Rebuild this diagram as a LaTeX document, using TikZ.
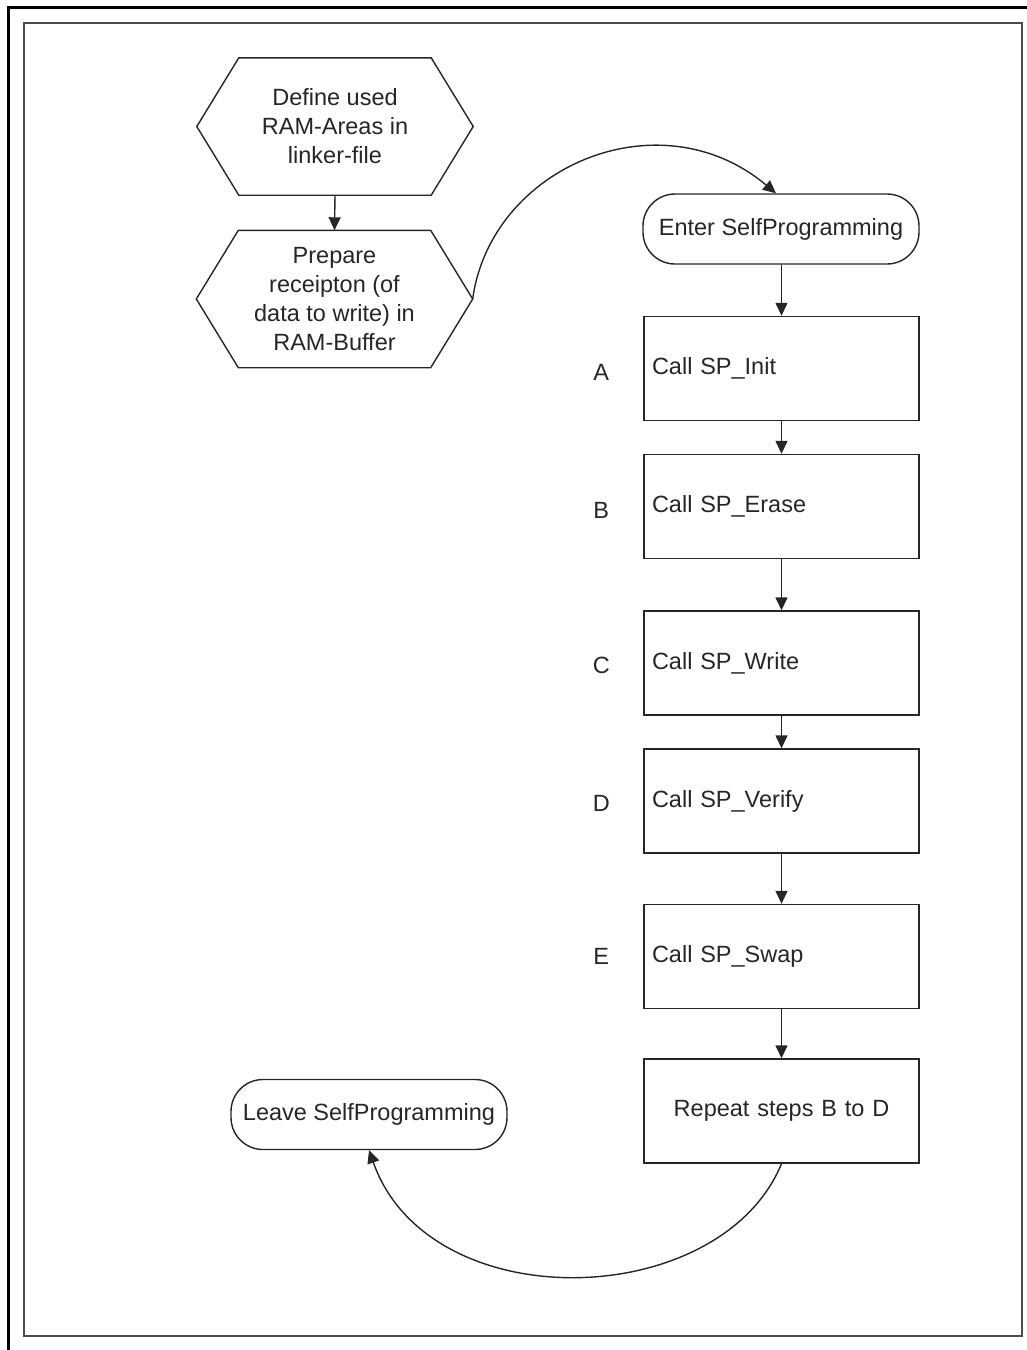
\documentclass[tikz,border=0pt]{standalone}
\usepackage{fontspec}
\setmainfont{Liberation Sans}
\usetikzlibrary{arrows.meta}

\tikzset{
  flow/.style={line width=1.4pt, draw=black!85},
  arr/.style={flow, -{Triangle[length=13pt,width=12pt]}},
  hexbox/.style={minimum width=276pt, minimum height=137pt, align=center, inner sep=0pt, text=black!85},
  term/.style={flow, draw, rounded corners=32pt, minimum width=276pt, minimum height=70pt, inner sep=0pt, text=black!85},
  stepbox/.style={flow, draw, minimum width=275pt, minimum height=104pt, text width=259pt, align=left, inner xsep=8pt, inner ysep=0pt, text=black!85},
  tag/.style={inner sep=0pt, text=black!85},
}

\begin{document}
\begin{tikzpicture}[x=1pt, y=-1pt, font=\fontsize{23.5}{29}\selectfont]
  \useasboundingbox (0,0) rectangle (1027,1350);

  % page frames
  \draw[line width=2.5pt, black] (8.5,1352) -- (8.5,7.5) -- (1029,7.5);
  \draw[line width=2pt, black!70] (23.5,22.5) rectangle (1022,1335.5);

  % preparation steps (hexagons)
  \node[hexbox] (h1) at (335,126.5) {Define used\\RAM-Areas in\\linker-file};
  \node[hexbox] (h2) at (334.5,299) {Prepare\\receipton (of\\data to write) in\\RAM-Buffer};
  \foreach \h in {h1,h2}{
    \draw[flow] (\h.west) -- ([xshift=42pt]\h.north west) -- ([xshift=-42pt]\h.north east)
      -- (\h.east) -- ([xshift=-42pt]\h.south east) -- ([xshift=42pt]\h.south west) -- cycle;
  }

  % terminals
  \node[term] (enter) at (781,229) {Enter SelfProgramming};
  \node[term] (leave) at (369,1114.5) {Leave SelfProgramming};

  % self-programming steps
  \node[stepbox] (sa) at (781.5,368.5) {Call SP\_Init};
  \node[stepbox] (sb) at (781.5,506.5) {Call SP\_Erase};
  \node[stepbox] (sc) at (781.5,663) {Call SP\_Write};
  \node[stepbox] (sd) at (781.5,801) {Call SP\_Verify};
  \node[stepbox] (se) at (781.5,956.5) {Call SP\_Swap};
  \node[stepbox, align=center] (rep) at (781.5,1111) {Repeat steps B to D};

  % step letters
  \node[tag] (la) at ([xshift=-42pt,yshift=-4pt]sa.west) {A};
  \node[tag] (lb) at ([xshift=-42pt,yshift=-4pt]sb.west) {B};
  \node[tag] (lc) at ([xshift=-42pt,yshift=-2pt]sc.west) {C};
  \node[tag] (ld) at ([xshift=-42pt,yshift=-2pt]sd.west) {D};
  \node[tag] (le) at ([xshift=-42pt]se.west) {E};

  % connectors
  \draw[arr] (h1.south) -- (h2.north);
  \draw[arr] (h2.east) .. controls +(18,-132) and +(-117,-98) .. ([xshift=-5pt]enter.north);
  \draw[arr] (enter.south -| sa.north) -- (sa.north);
  \draw[arr] (sa) -- (sb);
  \draw[arr] (sb) -- (sc);
  \draw[arr] (sc) -- (sd);
  \draw[arr] (sd) -- (se);
  \draw[arr] (se) -- (rep);
  \draw[arr] (rep.south) .. controls +(-61,148) and +(60,170) .. (leave.south);
\end{tikzpicture}
\end{document}
